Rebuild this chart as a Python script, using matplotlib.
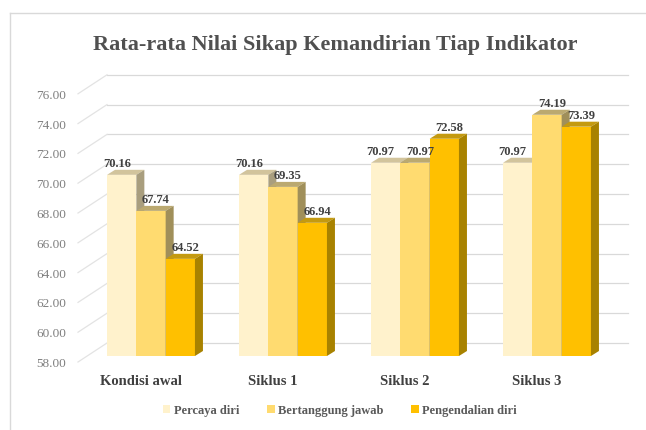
import matplotlib.pyplot as plt
from matplotlib.patches import Polygon, Patch
from matplotlib.lines import Line2D

# Data
categories = ["Kondisi awal", "Siklus 1", "Siklus 2", "Siklus 3"]
series_names = ["Percaya diri", "Bertanggung jawab", "Pengendalian diri"]
percaya_diri = [70.16, 70.16, 70.97, 70.97]
bertanggung_jawab = [67.74, 69.35, 70.97, 74.19]
pengendalian_diri = [64.52, 66.94, 72.58, 73.39]
y_ticks = [58, 60, 62, 64, 66, 68, 70, 72, 74, 76]
title = "Rata-rata Nilai Sikap Kemandirian Tiap Indikator"

series = [percaya_diri, bertanggung_jawab, pengendalian_diri]
front_colors = ["#FFF2CC", "#FFDB70", "#FFC000"]
top_colors = ["#D2C49C", "#BBA970", "#C49A10"]
side_colors = ["#A99E7E", "#A08F5A", "#A88200"]
label_shift_px = [-5, 5, 5]

plt.rcParams["font.family"] = ["Liberation Serif", "DejaVu Serif"]

W, H, DPI = 646, 431, 100
fig = plt.figure(figsize=(W / DPI, H / DPI), dpi=DPI)

# plot area geometry in pixels
ax_left, ax_right, ax_top, ax_bottom = 80, 628, 88.8, 357
group_px, first_center = 132, 151
ax = fig.add_axes([ax_left / W, 1 - ax_bottom / H,
                   (ax_right - ax_left) / W, (ax_bottom - ax_top) / H])
ymin, ymax = y_ticks[0], y_ticks[-1]
xmin = (ax_left - first_center) / group_px
xmax = (ax_right - first_center) / group_px
ax.set_xlim(xmin, xmax)
ax.set_ylim(ymin, ymax)
ax.axis("off")

px_x = 1 / group_px
px_y = (ymax - ymin) / (ax_bottom - ax_top)

# frame of the chart area
fig.add_artist(Line2D([10 / W, 1], [1 - 14 / H] * 2, color="#D9D9D9", lw=1))
fig.add_artist(Line2D([10 / W] * 2, [0, 1 - 14 / H], color="#D9D9D9", lw=1))

# back wall gridlines + perspective ticks
wall_x = xmin + 27 * px_x
for v in y_ticks:
    ax.plot([wall_x, xmax], [v + 13 * px_y] * 2, color="#D9D9D9", lw=0.9,
            clip_on=False, zorder=1)
    ax.plot([xmin - 2 * px_x, wall_x], [v - 6 * px_y, v + 13 * px_y],
            color="#E3E3E3", lw=0.9, clip_on=False, zorder=1)
    ax.text(xmin - 14 * px_x, v - 7 * px_y, f"{v:.2f}", ha="right",
            va="center", fontsize=9.5, color="#7F7F7F")

# 3D-looking bars
bw = 29.3 * px_x
dx = 8 * px_x
dy = 5 * px_y
for i in range(len(categories)):
    for j, vals in enumerate(series):
        v = vals[i]
        x0 = i + (j - 1.5) * bw
        z = 2 + j * 0.1
        ax.bar(x0, v - ymin, bottom=ymin, width=bw, align="edge",
               color=front_colors[j], zorder=z)
        ax.add_patch(Polygon([(x0, v), (x0 + bw, v), (x0 + bw + dx, v + dy),
                              (x0 + dx, v + dy)], closed=True,
                             facecolor=top_colors[j], edgecolor="none",
                             zorder=z, clip_on=False))
        ax.add_patch(Polygon([(x0 + bw, ymin), (x0 + bw + dx, ymin + dy),
                              (x0 + bw + dx, v + dy), (x0 + bw, v)],
                             closed=True, facecolor=side_colors[j],
                             edgecolor="none", zorder=z, clip_on=False))
        ax.text(x0 + bw / 2 + label_shift_px[j] * px_x, v + dy + 1 * px_y,
                f"{v:.2f}", ha="center", va="bottom", fontsize=9,
                fontweight="bold", color="#404040", zorder=5, clip_on=False)
    ax.text(i - 10 * px_x, ymin - 25 * px_y, categories[i], ha="center",
            va="center", fontsize=10.5, fontweight="bold", color="#404040",
            clip_on=False)

fig.text(335 / W, 1 - 45 / H, title, ha="center", va="center", fontsize=16,
         fontweight="bold", color="#505050")

handles = [Patch(facecolor=c, edgecolor="none") for c in front_colors]
leg = fig.legend(handles, series_names, loc="center",
                 bbox_to_anchor=(340 / W, 1 - 411 / H), ncol=3, frameon=False,
                 fontsize=9, handlelength=0.6, handleheight=0.6,
                 handletextpad=0.3, columnspacing=2.2)
for t in leg.get_texts():
    t.set_color("#595959")
    t.set_fontweight("bold")

fig.savefig("out.png", dpi=DPI)
